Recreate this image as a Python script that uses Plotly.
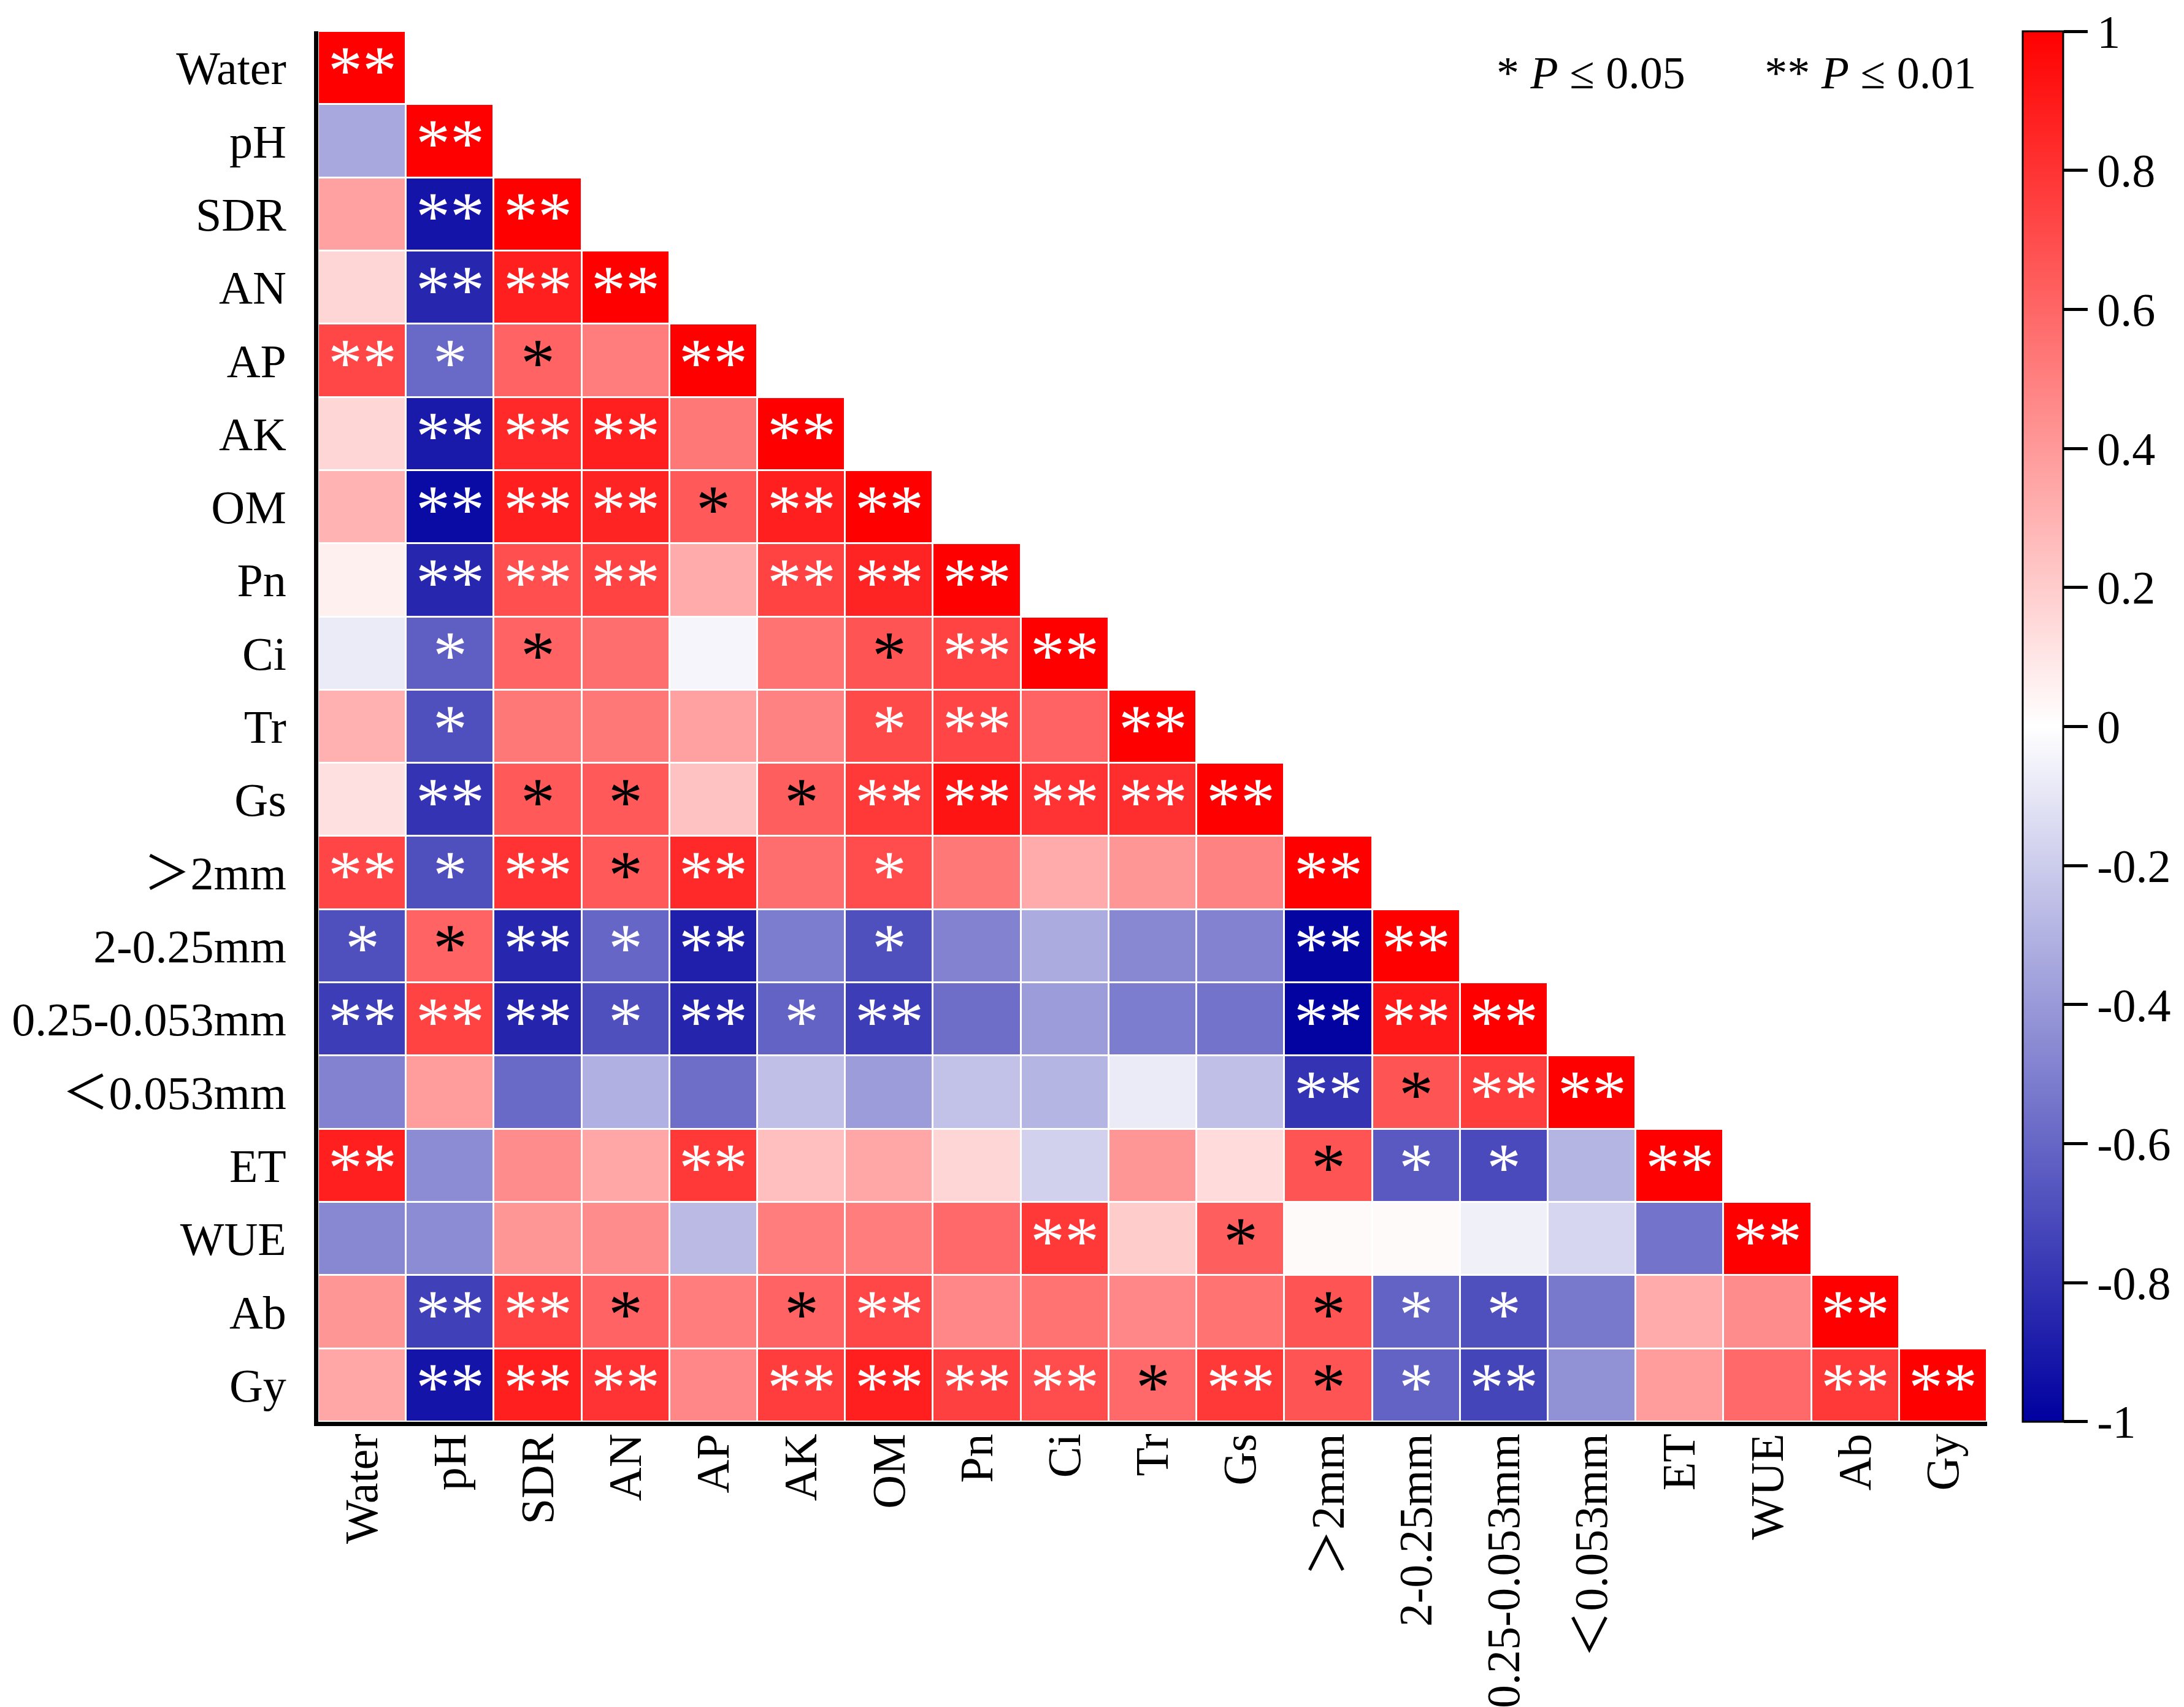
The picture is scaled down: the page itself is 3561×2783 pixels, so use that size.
import plotly.graph_objects as go

# 変数名（上から下、左から右）
labels = ["Water", "pH", "SDR", "AN", "AP", "AK", "OM", "Pn", "Ci", "Tr", "Gs",
          "＞2mm", "2-0.25mm", "0.25-0.053mm", "＜0.053mm", "ET", "WUE", "Ab", "Gy"]

# 下三角の相関係数（各行は対角まで）
r_water = [1.00]
r_ph = [-0.34, 1.00]
r_sdr = [0.37, -0.92, 1.00]
r_an = [0.16, -0.85, 0.88, 1.00]
r_ap = [0.72, -0.59, 0.61, 0.51, 1.00]
r_ak = [0.16, -0.90, 0.84, 0.88, 0.53, 1.00]
r_om = [0.30, -0.96, 0.88, 0.86, 0.65, 0.88, 1.00]
r_pn = [0.06, -0.85, 0.69, 0.74, 0.33, 0.74, 0.86, 1.00]
r_ci = [-0.08, -0.63, 0.61, 0.57, -0.04, 0.55, 0.67, 0.74, 1.00]
r_tr = [0.31, -0.69, 0.53, 0.53, 0.37, 0.49, 0.71, 0.73, 0.61, 1.00]
r_gs = [0.12, -0.80, 0.65, 0.65, 0.24, 0.63, 0.78, 0.92, 0.80, 0.82, 1.00]
r_gt2 = [0.73, -0.69, 0.80, 0.65, 0.84, 0.57, 0.70, 0.53, 0.33, 0.41, 0.49, 1.00]
r_mid = [-0.69, 0.61, -0.85, -0.60, -0.88, -0.51, -0.69, -0.49, -0.33, -0.47, -0.49,
         -0.98, 1.00]
r_small = [-0.76, 0.74, -0.86, -0.69, -0.86, -0.61, -0.76, -0.57, -0.39, -0.51, -0.55,
           -0.99, 0.90, 1.00]
r_lt = [-0.49, 0.39, -0.59, -0.31, -0.57, -0.25, -0.39, -0.24, -0.29, -0.08, -0.25,
        -0.80, 0.67, 0.76, 1.00]
r_et = [0.88, -0.45, 0.45, 0.35, 0.78, 0.25, 0.35, 0.16, -0.18, 0.41, 0.14,
        0.67, -0.65, -0.71, -0.29, 1.00]
r_wue = [-0.47, -0.45, 0.41, 0.45, -0.27, 0.51, 0.51, 0.59, 0.78, 0.20, 0.63,
         0.02, 0.02, -0.06, -0.16, -0.55, 1.00]
r_ab = [0.41, -0.75, 0.74, 0.61, 0.51, 0.61, 0.72, 0.47, 0.55, 0.47, 0.55,
        0.67, -0.61, -0.69, -0.53, 0.33, 0.45, 1.00]
r_gy = [0.35, -0.92, 0.88, 0.80, 0.47, 0.76, 0.88, 0.75, 0.70, 0.59, 0.78,
        0.67, -0.61, -0.73, -0.43, 0.39, 0.59, 0.78, 1.00]

# 有意性（"*" P<=0.05, "**" P<=0.01）
s_water = ["**"]
s_ph = ["", "**"]
s_sdr = ["", "**", "**"]
s_an = ["", "**", "**", "**"]
s_ap = ["**", "*", "*", "", "**"]
s_ak = ["", "**", "**", "**", "", "**"]
s_om = ["", "**", "**", "**", "*", "**", "**"]
s_pn = ["", "**", "**", "**", "", "**", "**", "**"]
s_ci = ["", "*", "*", "", "", "", "*", "**", "**"]
s_tr = ["", "*", "", "", "", "", "*", "**", "", "**"]
s_gs = ["", "**", "*", "*", "", "*", "**", "**", "**", "**", "**"]
s_gt2 = ["**", "*", "**", "*", "**", "", "*", "", "", "", "", "**"]
s_mid = ["*", "*", "**", "*", "**", "", "*", "", "", "", "", "**", "**"]
s_small = ["**", "**", "**", "*", "**", "*", "**", "", "", "", "", "**", "**", "**"]
s_lt = ["", "", "", "", "", "", "", "", "", "", "", "**", "*", "**", "**"]
s_et = ["**", "", "", "", "**", "", "", "", "", "", "", "*", "*", "*", "", "**"]
s_wue = ["", "", "", "", "", "", "", "", "**", "", "*", "", "", "", "", "", "**"]
s_ab = ["", "**", "**", "*", "", "*", "**", "", "", "", "", "*", "*", "*", "", "", "", "**"]
s_gy = ["", "**", "**", "**", "", "**", "**", "**", "**", "*", "**", "*", "*", "**",
        "", "", "", "**", "**"]

corrRows = [r_water, r_ph, r_sdr, r_an, r_ap, r_ak, r_om, r_pn, r_ci, r_tr, r_gs,
            r_gt2, r_mid, r_small, r_lt, r_et, r_wue, r_ab, r_gy]
sigRows = [s_water, s_ph, s_sdr, s_an, s_ap, s_ak, s_om, s_pn, s_ci, s_tr, s_gs,
           s_gt2, s_mid, s_small, s_lt, s_et, s_wue, s_ab, s_gy]

cbVals = [0.9999, 0.8, 0.6, 0.4, 0.2, 0, -0.2, -0.4, -0.6, -0.8, -0.9999]
cbText = ["1", "0.8", "0.6", "0.4", "0.2", "0", "-0.2", "-0.4", "-0.6", "-0.8", "-1"]

n = len(labels)
z = [[corrRows[i][j] if j <= i else None for j in range(n)] for i in range(n)]

FONT = "Liberation Serif, 'Times New Roman', 'Noto Sans CJK SC', serif"

fig = go.Figure()
fig.add_trace(go.Heatmap(
  z=z, x=list(range(n)), y=list(range(n)),
  zmin=-1, zmax=1,
  colorscale=[[0, "rgb(0,0,160)"], [0.5, "rgb(255,255,255)"], [1, "rgb(255,0,0)"]],
  xgap=3, ygap=3, hoverongaps=False,
  colorbar=dict(
    x=1.0213, xanchor="left", y=0.5, yanchor="middle", len=1.0, lenmode="fraction",
    xpad=0, ypad=0,
    thickness=66, thicknessmode="pixels",
    outlinewidth=3, outlinecolor="black",
    tickmode="array", tickvals=cbVals, ticktext=cbText,
    ticks="outside", ticklen=39, tickwidth=5, tickcolor="black",
    tickfont=dict(family=FONT, size=76, color="black"),
  ),
))

# セル内のアスタリスク
for i in range(n):
  for j in range(i + 1):
    star = sigRows[i][j]
    if not star:
      continue
    v = corrRows[i][j]
    color = "black" if (star == "*" and 0 < v < 0.68) else "white"
    fig.add_annotation(
      x=j, y=i, text=star, showarrow=False,
      font=dict(family=FONT, size=112, color=color),
      yshift=-3,
    )

# 凡例テキスト
fig.add_annotation(
  x=0.994, y=0.970, xref="paper", yref="paper",
  xanchor="right", yanchor="middle", showarrow=False,
  text="* <i>P</i> ≤ 0.05       ** <i>P</i> ≤ 0.01",
  font=dict(family=FONT, size=74, color="black"),
)

fig.update_xaxes(
  range=[-0.5, n - 0.5], tickmode="array", tickvals=list(range(n)), ticktext=labels,
  tickangle=-90, showgrid=False, zeroline=False, automargin=False,
  showline=True, linewidth=7, linecolor="black", ticks="",
  ticklabelstandoff=-18,
  tickfont=dict(family=FONT, size=76, color="black"),
)
fig.update_yaxes(
  range=[n - 0.5, -0.5], tickmode="array", tickvals=list(range(n)), ticktext=labels,
  showgrid=False, zeroline=False, automargin=False,
  showline=True, linewidth=7, linecolor="black", ticks="",
  ticklabelstandoff=30,
  tickfont=dict(family=FONT, size=76, color="black"),
)

fig.update_layout(
  width=3561, height=2783,
  margin=dict(l=511, r=329, t=43, b=473, autoexpand=False),
  paper_bgcolor="white", plot_bgcolor="white",
  font=dict(family=FONT, color="black"),
)

fig.write_html("out.html")
